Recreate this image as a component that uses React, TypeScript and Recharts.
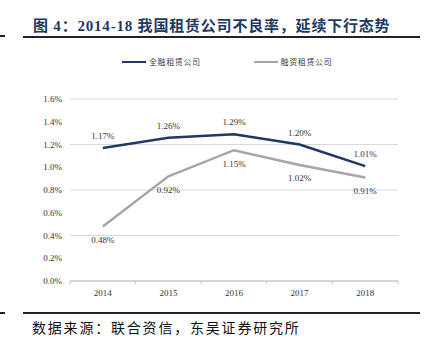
import React from 'react';
import { LineChart, Line, XAxis, YAxis, CartesianGrid, LabelList, Legend } from 'recharts';

const years = ['2014', '2015', '2016', '2017', '2018'];
const financialLeasing = [1.17, 1.26, 1.29, 1.2, 1.01];
const financeLeasing = [0.48, 0.92, 1.15, 1.02, 0.91];
const yTicks = [0, 0.2, 0.4, 0.6, 0.8, 1.0, 1.2, 1.4, 1.6];
const seriesNames = ['全融租赁公司', '融资租赁公司'];
const titleText = '图 4：2014-18 我国租赁公司不良率，延续下行态势';
const sourceText = '数据来源：联合资信，东吴证券研究所';

const data = years.map((y, i) => ({ year: y, a: financialLeasing[i], b: financeLeasing[i] }));

const W = 427;
const H = 350;
const LEGEND_H = 14;
const MARGIN = { top: 99 - LEGEND_H, right: 29, bottom: 39, left: 20 };
const Y_AXIS_W = 50;
const PLOT_W = W - MARGIN.left - Y_AXIS_W - MARGIN.right;
const HALF_BAND = PLOT_W / years.length / 2;

const NAVY = '#1f3864';
const GRAY = '#a6a6a6';
const SERIF = '"Liberation Serif", "Times New Roman", serif';
const CJK = '"Noto Sans CJK SC", sans-serif';

const XTick = (props: any) => {
  const { x, y, payload, index } = props;
  return (
    <g>
      <line x1={x - HALF_BAND} x2={x - HALF_BAND} y1={y - 8} y2={y - 5} stroke="#bfbfbf" />
      {index === years.length - 1 && (
        <line x1={x + HALF_BAND} x2={x + HALF_BAND} y1={y - 8} y2={y - 5} stroke="#bfbfbf" />
      )}
      <text x={x} y={y + 1} dy="0.71em" textAnchor="middle" fontSize={9} fontFamily={SERIF} fill="#333">
        {payload.value}
      </text>
    </g>
  );
};

const renderLegend = (props: any) => {
  const { payload } = props;
  return (
    <div style={{ display: 'flex', paddingLeft: 122, alignItems: 'center', height: LEGEND_H }}>
      {(payload || []).map((p: any, i: number) => (
        <div key={i} style={{ display: 'flex', alignItems: 'center', marginRight: i === 0 ? 53 : 0 }}>
          <div style={{ width: 24, height: 2, background: p.color, marginRight: 3 }} />
          <span style={{ fontSize: 8, fontFamily: CJK, color: '#404040', letterSpacing: 0.6, lineHeight: LEGEND_H + 'px' }}>
            {p.value}
          </span>
        </div>
      ))}
    </div>
  );
};

export default function App() {
  return (
    <div style={{ position: 'absolute', left: 0, top: 0, width: W, height: H, background: '#fff' }}>
      <div style={{ position: 'absolute', left: 0, top: 35, width: 5, height: 1.5, background: '#222' }} />
      <div
        style={{
          position: 'absolute',
          left: 33,
          top: 16,
          height: 20,
          lineHeight: '20px',
          fontSize: 15,
          fontWeight: 'bold',
          letterSpacing: 0.8,
          color: NAVY,
          fontFamily: `"Liberation Serif", "Noto Sans CJK SC", serif`,
          whiteSpace: 'nowrap',
        }}
      >
        {titleText}
      </div>
      <div style={{ position: 'absolute', left: 23, top: 36, width: 397, height: 1.5, background: '#222' }} />

      <div style={{ position: 'absolute', left: 0, top: 0 }}>
        <LineChart width={W} height={H} data={data} margin={MARGIN}>
          <CartesianGrid vertical={false} stroke="#d9d9d9" />
          <XAxis
            dataKey="year"
            axisLine={{ stroke: '#bfbfbf' }}
            tickLine={false}
            tickSize={6}
            height={30}
            tick={<XTick />}
            interval={0}
            padding={{ left: HALF_BAND, right: HALF_BAND }}
          />
          <YAxis
            width={Y_AXIS_W}
            domain={[0, 1.6]}
            ticks={yTicks}
            axisLine={false}
            tickLine={false}
            tick={{ fontSize: 9, fontFamily: SERIF, fill: '#333' }}
            tickFormatter={(v: number) => v.toFixed(1) + '%'}
          />
          <Legend
            verticalAlign="top"
            content={renderLegend}
            wrapperStyle={{ top: 55, left: 0, width: W, height: LEGEND_H }}
          />
          <Line
            type="linear"
            dataKey="a"
            name={seriesNames[0]}
            stroke={NAVY}
            strokeWidth={2.5}
            dot={false}
            isAnimationActive={false}
          >
            <LabelList
              dataKey="a"
              position="top"
              offset={9}
              formatter={(v: any) => Number(v).toFixed(2) + '%'}
              style={{ fontSize: 9, fontFamily: SERIF, fill: '#333' }}
            />
          </Line>
          <Line
            type="linear"
            dataKey="b"
            name={seriesNames[1]}
            stroke={GRAY}
            strokeWidth={2.5}
            dot={false}
            isAnimationActive={false}
          >
            <LabelList
              dataKey="b"
              position="bottom"
              offset={10}
              formatter={(v: any) => Number(v).toFixed(2) + '%'}
              style={{ fontSize: 9, fontFamily: SERIF, fill: '#333' }}
            />
          </Line>
        </LineChart>
      </div>

      <div style={{ position: 'absolute', left: 0, top: 312, width: 5, height: 1.5, background: '#222' }} />
      <div style={{ position: 'absolute', left: 23, top: 312, width: 397, height: 1.5, background: '#222' }} />
      <div
        style={{
          position: 'absolute',
          left: 32,
          top: 318,
          height: 18,
          lineHeight: '18px',
          fontSize: 14,
          letterSpacing: 1.8,
          color: '#111',
          fontFamily: CJK,
          whiteSpace: 'nowrap',
        }}
      >
        {sourceText}
      </div>
    </div>
  );
}
